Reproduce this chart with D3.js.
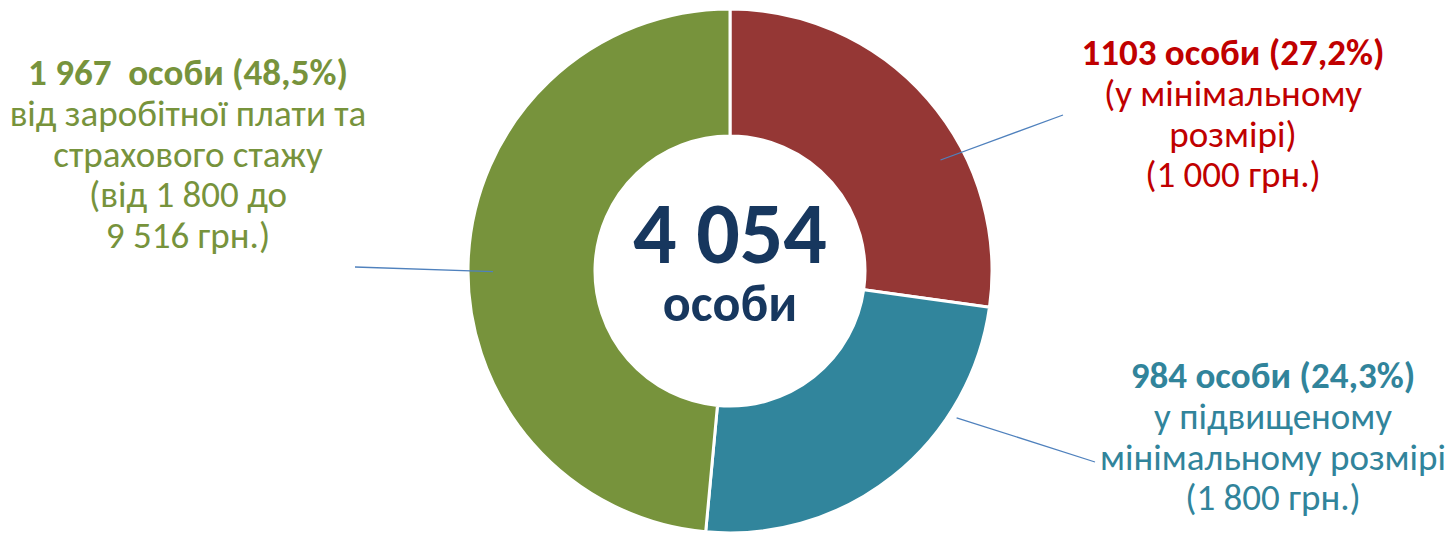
<!DOCTYPE html>
<html>
<head>
<meta charset="utf-8">
<script src="https://cdn.jsdelivr.net/npm/d3@7"></script>
<style>
  html, body { margin: 0; padding: 0; background: #fff; }
  svg { display: block; }
  text { font-family: Carlito, Lato, "Open Sans", sans-serif; }
</style>
</head>
<body>
<svg id="chart" width="1448" height="534"></svg>
<script>
// data
var categories = ['мінімальний', 'підвищений мінімальний', 'від заробітної плати та стажу'];
var counts = [1103, 984, 1967];
var shares = ['27,2%', '24,3%', '48,5%'];
var totalLabel = '4 054';
var totalUnit = 'особи';
var sliceColors = ['#953735', '#31859c', '#77933c'];
var textColors = ['#c00000', '#31849b', '#77933c'];

// label text lines (first line bold)
var labelLines = [
  ['1103 особи (27,2%)', '(у мінімальному', 'розмірі)', '(1 000 грн.)'],
  ['984 особи (24,3%)', 'у підвищеному', 'мінімальному розмірі', '(1 800 грн.)'],
  ['1 967  особи (48,5%)', 'від заробітної плати та', 'страхового стажу', '(від 1 800 до', '9 516 грн.)']
];

var width = 1448, height = 534;
var cx = 730, cy = 271;
var outerR = 262, innerR = 135;

var svg = d3.select('#chart');

var pie = d3.pie().sort(null).value(function(d){ return d; });
var arcs = pie(counts);

var arc = d3.arc().innerRadius(innerR).outerRadius(outerR);

var donut = svg.append('g')
  .attr('transform', 'translate(' + cx + ',' + cy + ')');

donut.selectAll('path')
  .data(arcs)
  .enter()
  .append('path')
  .attr('d', arc)
  .attr('fill', function(d, i){ return sliceColors[i]; })
  .attr('stroke', '#fff')
  .attr('stroke-width', 3);

// centre total
donut.append('text')
  .text(totalLabel)
  .attr('text-anchor', 'middle')
  .attr('y', -8)
  .style('font-size', '86px')
  .style('font-weight', 700)
  .style('fill', '#17375e');

donut.append('text')
  .text(totalUnit)
  .attr('text-anchor', 'middle')
  .attr('y', 50)
  .style('font-size', '52px')
  .style('font-weight', 700)
  .style('fill', '#17375e');

// label layout: centre x, first baseline
var labelPos = [
  {x: 1233, y: 65},
  {x: 1273, y: 388},
  {x: 188, y: 85}
];
var lineStep = 40.8;

// leader lines: position inside slice (fraction of angle span, radius) and outer end
var leaders = [
  {t: 0.635, r: 238, end: [1063, 115]},
  {t: 0.286, r: 270, end: [1095, 462]},
  {t: 0.484, r: 237, end: [355, 267]}
];

arcs.forEach(function(a, i){
  var ld = leaders[i];
  var ang = a.startAngle + ld.t * (a.endAngle - a.startAngle);
  var x0 = cx + ld.r * Math.sin(ang);
  var y0 = cy - ld.r * Math.cos(ang);
  svg.append('line')
    .attr('x1', x0).attr('y1', y0)
    .attr('x2', ld.end[0]).attr('y2', ld.end[1])
    .attr('stroke', '#4f81bd')
    .attr('stroke-width', 1.3);
});

labelLines.forEach(function(lines, i){
  var p = labelPos[i];
  var t = svg.append('text')
    .attr('text-anchor', 'middle')
    .style('font-size', '37px')
    .style('fill', textColors[i]);
  lines.forEach(function(s, j){
    t.append('tspan')
      .attr('x', p.x)
      .attr('y', p.y + j * lineStep)
      .style('font-weight', j === 0 ? 700 : 400)
      .style('white-space', 'pre')
      .text(s);
  });
});
</script>
</body>
</html>
